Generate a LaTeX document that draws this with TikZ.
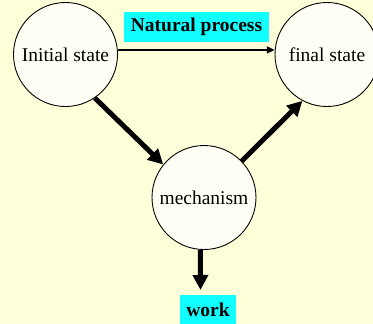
\documentclass[tikz,border=0pt]{standalone}
\usepackage{fontspec}
\setmainfont{Liberation Serif}
\usetikzlibrary{arrows.meta}
\definecolor{paper}{HTML}{FFFFDA}
\definecolor{bubble}{HTML}{FFFFF6}
\definecolor{tag}{HTML}{12FFFF}
\begin{document}
\begin{tikzpicture}[x=1bp,y=-1bp,
  state/.style={circle,draw=black,line width=0.9bp,fill=bubble,minimum size=104bp,inner sep=0pt,
    font=\fontsize{19.5bp}{22bp}\selectfont},
  label box/.style={fill=tag,inner sep=0pt,font=\fontsize{19.5bp}{22bp}\selectfont\bfseries},
  thin arrow/.style={line width=1.6bp,-{Triangle[length=8bp,width=7bp]}},
  thick arrow/.style={line width=5bp,-{Triangle[length=15bp,width=15bp]}}]
  \fill[paper] (0,0) rectangle (373,324);
  \useasboundingbox (0,0) rectangle (373,324);
  \begin{scope}
    \clip (0,0) rectangle (373,324);
    \node[state] (init) at (65.5,54.5) {Initial state};
    \node[state] (final) at (327,54.5) {final state};
    \node[state] (mech) at (204,197.5) {mechanism};
    \node[label box,minimum width=145bp,minimum height=30bp] (nat) at (196.5,27) {Natural process};
    \node[label box,minimum width=56bp,minimum height=29bp] (work) at (208,309.5) {work};
    \coordinate (worktip) at (200.5,290);
    \draw[thin arrow] (init.5) -- (final.175);
    \draw[thick arrow] (init.-56) -- (mech.141);
    \draw[thick arrow] (mech.44) -- (final.242);
    \draw[thick arrow] (mech.266) -- (worktip);
  \end{scope}
\end{tikzpicture}
\end{document}
